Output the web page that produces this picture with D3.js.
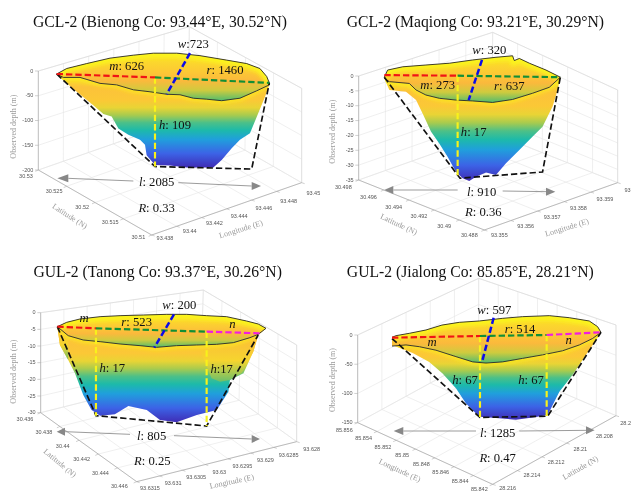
<!DOCTYPE html>
<html lang="en">
<head>
<meta charset="UTF-8">
<title>Glacial lake profiles</title>
<script src="https://d3js.org/d3.v7.min.js"></script>
<style>
  html, body { margin: 0; padding: 0; background: #fff; overflow: hidden; }
  svg { display: block; filter: blur(0.3px); }
  .title { font-family: "Liberation Serif", serif; font-size: 47px; fill: #111; text-anchor: middle; }
  .anno { font-family: "Liberation Serif", serif; font-size: 38px; fill: #111; text-anchor: middle; }
  .tick { font-family: "Liberation Sans", sans-serif; font-size: 16.5px; fill: #555; text-anchor: middle; }
  .axlabel { font-family: "Liberation Serif", serif; font-size: 24px; fill: #999; text-anchor: middle; }
</style>
</head>
<body>
<svg id="chart" width="631" height="491"></svg>
<script>
// axis ticks
var titles = [
  "GCL-2 (Bienong Co: 93.44\u00B0E, 30.52\u00B0N)",
  "GCL-2 (Maqiong Co: 93.21\u00B0E, 30.29\u00B0N)",
  "GUL-2 (Tanong Co: 93.37\u00B0E, 30.26\u00B0N)",
  "GUL-2 (Jialong Co: 85.85\u00B0E, 28.21\u00B0N)"
];
var sideTicks1 = [30.53, 30.525, 30.52, 30.515, 30.51];
var sideTicks2 = [30.498, 30.496, 30.494, 30.492, 30.49, 30.488];
var sideTicks3 = [30.436, 30.438, 30.44, 30.442, 30.444, 30.446];
var sideTicks4 = [85.856, 85.854, 85.852, 85.85, 85.848, 85.846, 85.844, 85.842];
var frontTicks1 = [93.438, 93.44, 93.442, 93.444, 93.446, 93.448, 93.45];
var frontTicks2 = [93.355, 93.356, 93.357, 93.358, 93.359, 93.36];
var frontTicks3 = [93.6315, 93.631, 93.6305, 93.63, 93.6295, 93.629, 93.6285, 93.628];
var frontTicks4 = [28.216, 28.214, 28.212, 28.21, 28.208, 28.206];
var depthTicks1 = [0, -50, -100, -150, -200];
var depthTicks2 = [0, -5, -10, -15, -20, -25, -30, -35];
var depthTicks3 = [0, -5, -10, -15, -20, -25, -30];
var depthTicks4 = [0, -50, -100, -150];

// lake length l (m), and the shape as [distance along l (m), apparent depth (m)]
var lengths = [2085, 910, 805, 1285];

var backRim1 = [[0,-6],[98,5],[294,15],[523,26],[752,32],[948,36],[1176,36],[1405,31],[1667,22],[1863,15],[1993,5],[2059,-11],[2085,-24]];
var frontRim1 = [[0,-6],[65,-13],[229,-13],[425,-25],[588,-28],[752,-38],[915,-42],[1078,-47],[1209,-48],[1340,-55],[1471,-57],[1618,-60],[1797,-55],[1961,-40],[2085,-28]];
var bed1 = [[0,-6],[33,-13],[196,-42],[359,-69],[458,-87],[539,-92],[605,-116],[703,-129],[817,-139],[866,-149],[882,-170],[964,-190],[1111,-191],[1275,-195],[1536,-195],[1618,-180],[1716,-156],[1797,-139],[1895,-126],[1977,-85],[2043,-52],[2085,-28]];
var trapezoid1 = [[0,-6],[964,-193],[1912,-198],[2085,-24]];

var backRim2 = [[0,-0.4],[17,2],[95,3.1],[215,3.7],[336,4.3],[457,5.4],[577,6.3],[663,6.8],[672,5.2],[698,5.9],[750,4.3],[836,2],[910,-0.4]];
var frontRim2 = [[0,-0.8],[26,-1.9],[129,-2.5],[164,-4.7],[215,-6.4],[284,-7.5],[370,-8.1],[457,-8.4],[560,-8.9],[663,-7.9],[767,-5.8],[853,-3.8],[910,-0.4]];
var bed2 = [[0,-0.8],[26,-4.7],[112,-5.3],[164,-8.1],[198,-12.6],[241,-18.7],[284,-22.7],[327,-27.2],[370,-32.2],[405,-34.4],[439,-35.3],[474,-33.9],[526,-32.5],[577,-33.3],[629,-29.4],[698,-24.9],[767,-20.4],[818,-17.1],[870,-10.3],[896,-4.7],[910,-0.4]];
var trapezoid2 = [[0,-0.4],[391,-34.4],[818,-32.3],[910,-0.4]];

var backRim3 = [[0,-4.2],[36,-2.9],[87,-1.9],[165,-1.2],[242,-0.9],[332,-0.7],[422,-0.5],[499,-0.5],[576,-0.9],[653,-1.2],[730,-2.5],[775,-3.4],[805,-4.7]];
var frontRim3 = [[0,-4.2],[42,-6.9],[100,-8.2],[165,-8.7],[242,-9.4],[319,-9.9],[383,-10.4],[460,-9.9],[537,-9.7],[614,-9.5],[679,-9],[743,-7.5],[775,-6.5],[805,-4.7]];
var bed3 = [[0,-4.2],[10,-9.7],[42,-14.2],[68,-18.2],[100,-24.7],[132,-29.2],[165,-30.9],[222,-30.5],[274,-28],[345,-29.2],[396,-32.2],[460,-32.9],[538,-30.7],[615,-29.2],[660,-23.7],[666,-20.2],[718,-18.2],[756,-11.7],[775,-6.7],[805,-4.7]];
var trapezoid3 = [[0,-4.2],[149,-30.9],[576,-34],[775,-6.7]];
var lobeLeft3 = [[0,-4.2],[10,-9.7],[42,-14.2],[42,-7.2]];
var lobeRight3 = [[544,-9.7],[563,-13.7],[595,-19.7],[628,-20.7],[666,-20.2],[711,-18.2],[756,-11.7],[775,-6.7],[679,-9]];

var backRim4 = [[0,-4],[25,-1.1],[107,2.9],[209,8.6],[307,17],[414,21.7],[537,24],[680,28.5],[803,31.4],[967,33.1],[1090,29.6],[1213,24],[1264,14.3],[1285,4.6]];
var frontRim4 = [[0,-19],[86,-17],[168,-20],[270,-26],[393,-37],[496,-46],[578,-48],[680,-46],[803,-40],[926,-34],[1049,-27],[1152,-17],[1233,-6],[1285,4.6]];
var bed4 = [[0,-17],[127,-31],[229,-46],[311,-66],[393,-91],[455,-117],[537,-140],[639,-142],[762,-145],[865,-141],[957,-137],[1029,-97],[1111,-68],[1193,-34],[1254,-9],[1285,4.6]];
var trapezoid4 = [[0,-6],[541,-141],[957,-139],[1285,4.6]];

// dashed measures: m, r, n along the centre line, w across it, h down to the bed
var mLine = [[[0,-6],[964,-13]], [[0,0.3],[379,0.1]], [[0,-4.2],[149,-4.7]], [[0,-4.6],[541,-1.7]]];
var rLine = [[[964,-13],[2085,-24]], [[379,0.1],[910,-0.4]], [[149,-4.7],[576,-5.7]], [[541,-1.7],[951,0]]];
var nLine = [null, null, [[576,-5.7],[788,-6.2]], [[951,0],[1285,4.6]]];
var wLine = [[[1307,36],[1078,-47]], [[505,5.4],[436,-8.1]], [[450,-0.5],[374,-10.5]], [[625,29.6],[553,-46.7]]];
var hLines = [
  [[[964,-13],[964,-193]]],
  [[[379,0.1],[379,-34]]],
  [[[149,-4.7],[149,-30.9]], [[576,-5.7],[576,-34]]],
  [[[541,-1.7],[541,-141]], [[951,0],[951,-139]]]
];

// colour ramps, top of each surface to its lowest point
var wallStops = [[0,"#f8ee22"],[0.14,"#fcc23a"],[0.28,"#fbc836"],[0.36,"#e9d435"],[0.44,"#a8cb4e"],[0.52,"#4cc088"],[0.6,"#1dbaa9"],[0.7,"#209fdc"],[0.85,"#3c63e6"],[1,"#3f2cb5"]];
var basinStops = [[0,"#fbe426"],[0.4,"#fcc835"],[0.58,"#fbb93c"],[0.78,"#cfcb3e"],[1,"#52bc6e"]];
var lobeStops = [[0,"#fcb83c"],[0.55,"#f6d52e"],[1,"#6cbf6a"]];

// layout, in crop units (3 units = 1px), one entry per panel
var panelOrigin = [[0,0],[316,0],[0,245],[316,245]];
var layout = [
  { title:[480,82], A:[115,510], B:[455,705], C:[905,548], D:[565,353], At:[115,213], Dt:[568,80], Ct:[905,265],
    tipX:[170,808], sideOff:[[-40,7],[-37,18]], frontOff:[[40,10],[35,32]], depthOffX:-15,
    sideLabel:["Latitude (N)",205,655,33], frontLabel:["Longitude (E)",725,695,-17], depthLabel:[47,380],
    l:{ left:[172,535,205,400,543], right:[535,548,755,783,558] },
    annos:[["w",":723",580,145],["m",": 626",380,210],["r",": 1460",675,221],["h",": 109",525,386],["l",": 2085",470,557],["R",": 0.33",470,637]] },
  { title:[478,82], A:[128,540], B:[505,690], C:[905,548], D:[528,398], At:[128,228], Dt:[530,97], Ct:[905,270],
    tipX:[205,733], sideOff:[[-45,16],[-46,22]], frontOff:[[45,15],[41,22]], depthOffX:-15,
    sideLabel:["Latitude (N)",245,680,25], frontLabel:["Longitude (E)",755,690,-17], depthLabel:[57,395],
    l:{ left:[205,570,232,425,570], right:[560,573,690,718,575] },
    annos:[["w",": 320",520,162],["m",": 273",365,267],["r",": 637",580,270],["h",": 17",473,409],["l",": 910",497,587],["R",": 0.36",502,649]] },
  { title:[473,97], A:[122,503], B:[410,710], C:[890,590], D:[602,383], At:[122,203], Dt:[610,135], Ct:[890,300],
    tipX:[172,798], sideOff:[[-52,14],[-47,19]], frontOff:[[40,20],[45,23]], depthOffX:-15,
    sideLabel:["Latitude (N)",175,660,40], frontLabel:["Longitude (E)",697,717,-12], depthLabel:[47,380],
    l:{ left:[170,560,195,390,568], right:[522,572,755,780,582] },
    annos:[["w",": 200",538,193],["m","",252,232],["r",": 523",410,242],["n","",697,250],["h",": 17",337,382],["h",":17",665,384],["l",": 805",455,584],["R",": 0.25",457,661]] },
  { title:[463,97], A:[125,533], B:[530,718], C:[900,512], D:[488,335], At:[125,270], Dt:[488,100], Ct:[900,240],
    tipX:[228,855], sideOff:[[-40,15],[-40,22]], frontOff:[[45,12],[38,21]], depthOffX:-15,
    sideLabel:["Longitude (E)",248,683,25], frontLabel:["Latitude (N)",797,675,-30], depthLabel:[57,405],
    l:{ left:[233,558,262,480,558], right:[610,558,810,835,556] },
    annos:[["w",": 597",535,206],["r",": 514",612,263],["m","",348,304],["n","",758,296],["h",": 67",447,418],["h",": 67",645,418],["l",": 1285",545,575],["R",": 0.47",545,651]] }
];

var sideTicks = [sideTicks1, sideTicks2, sideTicks3, sideTicks4];
var frontTicks = [frontTicks1, frontTicks2, frontTicks3, frontTicks4];
var depthTicks = [depthTicks1, depthTicks2, depthTicks3, depthTicks4];
var backRims = [backRim1, backRim2, backRim3, backRim4];
var frontRims = [frontRim1, frontRim2, frontRim3, frontRim4];
var beds = [bed1, bed2, bed3, bed4];
var trapezoids = [trapezoid1, trapezoid2, trapezoid3, trapezoid4];
var lobes = [[], [], [lobeLeft3, lobeRight3], []];

var svg = d3.select("#chart");
var defs = svg.append("defs");

function addGradient(id, stops) {
  var g = defs.append("linearGradient").attr("id", id)
    .attr("x1", 0).attr("y1", 0).attr("x2", 0).attr("y2", 1);
  stops.forEach(function (s) {
    g.append("stop").attr("offset", s[0]).attr("stop-color", s[1]);
  });
}
addGradient("wallGrad", wallStops);
addGradient("basinGrad", basinStops);
addGradient("lobeGrad", lobeStops);

// soft yellow band that follows the rim
defs.append("filter").attr("id", "soft")
  .attr("filterUnits", "userSpaceOnUse")
  .attr("x", -100).attr("y", -100).attr("width", 1200).attr("height", 1000)
  .append("feGaussianBlur").attr("stdDeviation", 7);

var mix = d3.interpolateNumberArray;

layout.forEach(function (lay, i) {
  var g = svg.append("g")
    .attr("transform", "translate(" + panelOrigin[i] + ") scale(" + (1 / 3) + ")");

  var side = sideTicks[i], front = frontTicks[i], depth = depthTicks[i];
  var uScale = d3.scaleLinear().domain([front[0], front[front.length - 1]]).range([0, 1]);
  var vScale = d3.scaleLinear().domain([side[side.length - 1], side[0]]).range([0, 1]);
  var tScale = d3.scaleLinear().domain([depth[depth.length - 1], 0]).range([0, 1]);

  var Bt = [lay.At[0] + lay.Ct[0] - lay.Dt[0], lay.At[1] + lay.Ct[1] - lay.Dt[1]];
  function project(u, v, t) {
    var floor = mix(mix(lay.B, lay.C)(u), mix(lay.A, lay.D)(u))(v);
    var top = mix(mix(Bt, lay.Ct)(u), mix(lay.At, lay.Dt)(u))(v);
    return mix(floor, top)(t);
  }

  var line = d3.line();
  function stroke(pts, color, w, dash) {
    return g.append("path").attr("d", line(pts)).attr("fill", "none")
      .attr("stroke", color).attr("stroke-width", w).attr("stroke-dasharray", dash || null);
  }

  // box grid
  var gridColor = "#e4e4e4";
  front.forEach(function (d) {
    var u = uScale(d);
    stroke([project(u, 0, 0), project(u, 1, 0), project(u, 1, 1)], gridColor, 1.8);
  });
  side.forEach(function (d) {
    var v = vScale(d);
    stroke([project(0, v, 0), project(1, v, 0), project(1, v, 1)], gridColor, 1.8);
  });
  depth.forEach(function (d) {
    var t = tScale(d);
    stroke([project(0, 1, t), project(1, 1, t), project(1, 0, t)], gridColor, 1.8);
  });
  stroke([lay.At, lay.Dt, lay.Ct, lay.C], "#d8d8d8", 1.8);
  stroke([lay.A, lay.At], "#a8a8a8", 2);
  stroke([lay.A, lay.B, lay.C], "#a0a0a0", 2);

  // tick labels, the label offset drifts a little along each axis
  var sideOff = mix(lay.sideOff[0], lay.sideOff[1]);
  var frontOff = mix(lay.frontOff[0], lay.frontOff[1]);
  side.forEach(function (d) {
    var v = vScale(d), p = project(0, v, 0), o = sideOff(v);
    g.append("text").attr("class", "tick")
      .attr("x", p[0] + o[0]).attr("y", p[1] + o[1] + 6).text(d);
    stroke([p, [p[0] - 9, p[1] + 4]], "#a0a0a0", 1.5);
  });
  front.forEach(function (d) {
    var u = uScale(d), p = project(u, 0, 0), o = frontOff(u);
    g.append("text").attr("class", "tick")
      .attr("x", p[0] + o[0]).attr("y", p[1] + o[1] + 6).text(d);
    stroke([p, [p[0] + 9, p[1] + 3]], "#a0a0a0", 1.5);
  });
  depth.forEach(function (d) {
    var p = project(0, 1, tScale(d));
    g.append("text").attr("class", "tick").style("text-anchor", "end")
      .attr("x", p[0] + lay.depthOffX).attr("y", p[1] + 5).text(d);
    stroke([p, [p[0] - 10, p[1]]], "#a0a0a0", 1.5);
  });

  // axis names
  [lay.sideLabel, lay.frontLabel].forEach(function (a) {
    g.append("text").attr("class", "axlabel")
      .attr("transform", "translate(" + a[1] + "," + a[2] + ") rotate(" + a[3] + ")").text(a[0]);
  });
  g.append("text").attr("class", "axlabel")
    .attr("transform", "translate(" + lay.depthLabel[0] + "," + lay.depthLabel[1] + ") rotate(-90)")
    .text("Observed depth (m)");

  // lake: along-track distance and depth scales
  var xScale = d3.scaleLinear().domain([0, lengths[i]]).range(lay.tipX);
  var yScale = d3.scaleLinear().domain([0, depth[depth.length - 1]]).range([lay.At[1], lay.A[1]]);
  var shape = d3.line().x(function (d) { return xScale(d[0]); }).y(function (d) { return yScale(d[1]); });

  var wall = frontRims[i].concat(beds[i].slice().reverse());
  var rim = backRims[i].concat(frontRims[i].slice().reverse());

  defs.append("clipPath").attr("id", "wallClip" + i).append("path").attr("d", shape(wall));
  defs.append("clipPath").attr("id", "rimClip" + i).append("path").attr("d", shape(rim));

  g.append("path").attr("d", shape(wall)).attr("fill", "url(#wallGrad)");
  lobes[i].forEach(function (lobe) {
    g.append("path").attr("d", shape(lobe) + "Z").attr("fill", "url(#lobeGrad)");
  });
  g.append("g").attr("clip-path", "url(#wallClip" + i + ")")
    .append("path").attr("d", shape(frontRims[i])).attr("fill", "none")
    .attr("stroke", "#fbf01c").attr("stroke-width", 16).attr("stroke-opacity", 0.8)
    .attr("filter", "url(#soft)");

  g.append("path").attr("d", shape(rim)).attr("fill", "url(#basinGrad)");
  g.append("g").attr("clip-path", "url(#rimClip" + i + ")")
    .append("path").attr("d", shape(backRims[i])).attr("fill", "none")
    .attr("stroke", "#fbf51a").attr("stroke-width", 26)
    .attr("filter", "url(#soft)");
  g.append("path").attr("d", shape(rim)).attr("fill", "none")
    .attr("stroke", "#222").attr("stroke-width", 2.6);

  // dashed measures
  function measure(seg, color, w) {
    g.append("path").attr("d", shape(seg)).attr("fill", "none")
      .attr("stroke", color).attr("stroke-width", w).attr("stroke-dasharray", "19,9");
  }
  measure(trapezoids[i], "#111", 5);
  hLines[i].forEach(function (s) { measure(s, "#f8f21a", 6.5); });
  measure(mLine[i], "#f01414", 6.5);
  measure(rLine[i], "#138f35", 6.5);
  if (nLine[i]) measure(nLine[i], "#f01ee0", 6.5);
  measure(wLine[i], "#0c0ce8", 7.5);

  // l arrows
  var la = lay.l.left, ra = lay.l.right, arrow = "#888";
  stroke([[la[2], la[1]], [la[3], la[4]]], arrow, 2.5);
  g.append("path").attr("fill", arrow)
    .attr("d", line([[la[0], la[1]], [la[2], la[1] - 12], [la[2], la[1] + 12]]) + "Z");
  stroke([[ra[0], ra[1]], [ra[2], ra[4]]], arrow, 2.5);
  g.append("path").attr("fill", arrow)
    .attr("d", line([[ra[3], ra[4]], [ra[2], ra[4] - 12], [ra[2], ra[4] + 12]]) + "Z");

  // titles and annotations
  g.append("text").attr("class", "title").attr("x", lay.title[0]).attr("y", lay.title[1]).text(titles[i]);
  lay.annos.forEach(function (a) {
    var t = g.append("text").attr("class", "anno").attr("x", a[2]).attr("y", a[3]);
    t.append("tspan").attr("font-style", "italic").text(a[0]);
    t.append("tspan").text(a[1]);
  });
});
</script>
</body>
</html>
